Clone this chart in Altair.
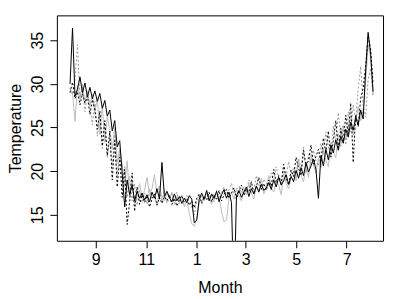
import altair as alt
import pandas as pd

# day offsets from Aug 1 (sampled every 3 days)
days = list(range(0, 367, 3))

black_solid = [
    30.0, 36.4, 28.6, 29.4, 30.8, 29.0, 30.1, 28.5, 29.6, 28.3,
    29.2, 28.0, 28.9, 27.2, 28.1, 26.3, 27.0, 24.6, 25.8, 22.8,
    23.5, 19.8, 15.9, 19.0, 17.3, 18.4, 16.6, 17.7, 16.9, 17.5,
    16.7, 17.3, 16.5, 17.6, 16.9, 18.0, 16.8, 21.0, 17.1, 17.7,
    17.0, 16.5, 17.4, 16.6, 17.1, 16.3, 16.9, 16.4, 17.2, 16.8,
    14.1, 14.4, 16.8, 17.5, 16.8, 17.8, 16.6, 17.4, 16.9, 17.7,
    16.5, 17.3, 17.9, 16.9, 17.6, 16.4, 5.0, 17.2, 17.8, 17.0,
    17.6, 18.2, 17.1, 18.0, 17.4, 18.3, 17.6, 18.5, 17.8, 18.1,
    18.7, 17.9, 19.0, 18.2, 19.3, 18.4, 18.9, 19.6, 18.5, 19.4,
    18.8, 20.1, 19.2, 20.4, 19.5, 21.0, 19.9, 20.6, 21.4, 20.2,
    16.9, 21.8, 20.6, 22.5, 21.3, 23.0, 22.1, 23.6, 22.4, 24.0,
    23.2, 24.8, 23.9, 25.6, 24.7, 26.2, 25.3, 27.0, 26.0, 31.5,
    35.9, 33.5, 29.1,
]

gray_solid = [
    29.5, 29.0, 25.7, 29.8, 28.4, 30.0, 27.9, 29.2, 27.5, 28.8,
    26.8, 28.4, 24.2, 27.5, 23.3, 26.2, 24.8, 22.5, 25.0, 21.0,
    22.6, 20.8, 18.2, 21.2, 17.0, 18.8, 16.3, 17.5, 18.6, 16.9,
    17.8, 19.3, 17.2, 18.0, 19.6, 17.4, 18.3, 17.0, 16.6, 17.5,
    16.8, 17.6, 16.2, 17.1, 16.5, 17.3, 15.9, 16.7, 15.2, 14.0,
    13.7, 14.5, 16.4, 17.2, 16.6, 17.5, 16.9, 16.2, 17.4, 16.8,
    17.1, 15.4, 14.2, 14.4, 16.9, 17.6, 16.8, 17.9, 17.2, 16.6,
    17.9, 17.3, 18.6, 17.5, 16.8, 18.4, 17.7, 19.2, 17.4, 18.3,
    19.5, 18.1, 17.6, 19.0, 18.4, 17.3, 19.8, 18.6, 18.0, 19.2,
    20.0, 18.9, 21.2, 19.6, 18.8, 20.5, 19.3, 22.0, 20.7, 19.8,
    21.5, 20.4, 22.6, 21.2, 20.5, 23.4, 22.2, 21.5, 24.3, 22.8,
    25.2, 23.6, 24.9, 26.3, 24.1, 25.5, 27.4, 25.8, 27.0, 30.2,
    34.5, 33.0, 28.8,
]

black_dotted = [
    29.0, 30.2, 28.3, 29.1, 27.6, 28.9, 27.8, 28.6, 26.5, 28.2,
    27.0, 24.8, 26.9, 22.9, 25.8, 21.8, 24.6, 19.0, 23.5, 18.2,
    21.6, 17.0, 20.2, 13.9, 16.5, 19.8, 15.4, 18.2, 16.2, 17.3,
    16.4, 17.2, 15.9, 16.8, 17.4, 16.1, 17.0, 16.3, 17.1, 16.6,
    17.3, 16.2, 16.9, 16.0, 16.7, 17.2, 16.4, 16.9, 16.1, 16.6,
    15.8, 16.9, 17.4, 16.3, 17.1, 16.7, 17.6, 16.5, 17.2, 16.8,
    17.8, 16.6, 17.3, 17.9, 16.9, 17.5, 18.1, 16.8, 17.7, 18.4,
    17.2, 18.0, 17.6, 18.8, 17.4, 18.2, 19.3, 17.9, 18.6, 17.8,
    19.0, 18.3, 20.2, 18.7, 19.5, 18.6, 20.8, 19.2, 18.4, 20.1,
    19.4, 21.6, 20.3, 19.5, 22.4, 20.6, 21.2, 23.0, 20.8, 21.7,
    22.5, 21.0, 23.8, 22.2, 24.6, 21.6, 23.5, 25.8, 22.7, 24.9,
    23.4, 26.4, 24.2, 27.8, 21.0, 26.5, 25.1, 28.3, 29.5, 32.0,
    35.5, 34.0, 30.0,
]

gray_dotted = [
    29.5, 28.8, 30.4, 34.5, 28.2, 29.6, 26.8, 29.0, 27.4, 25.3,
    28.0, 24.0, 26.5, 22.6, 25.4, 21.5, 23.8, 20.6, 24.2, 19.5,
    22.4, 18.6, 20.5, 17.0, 19.4, 16.6, 18.5, 16.1, 17.8, 16.4,
    17.5, 16.2, 18.0, 16.8, 17.3, 16.1, 17.7, 16.5, 17.9, 16.3,
    16.9, 17.4, 16.6, 17.6, 16.3, 17.0, 16.7, 17.2, 16.4, 15.9,
    15.0, 16.6, 17.3, 16.4, 16.9, 17.5, 16.7, 17.3, 16.5, 17.8,
    16.9, 17.5, 18.2, 17.0, 17.9, 18.6, 17.4, 17.9, 18.3, 17.5,
    18.2, 17.6, 19.0, 18.3, 17.8, 19.5, 18.4, 18.0, 19.1, 18.6,
    18.3, 19.8, 18.8, 20.5, 19.2, 18.7, 20.3, 19.4, 21.1, 19.7,
    20.4, 19.6, 21.5, 20.3, 22.8, 19.8, 21.9, 20.7, 22.4, 21.2,
    20.6, 23.2, 21.9, 24.5, 22.8, 21.6, 25.2, 23.4, 26.7, 24.0,
    25.3, 23.0, 26.8, 24.5, 27.6, 25.8, 29.4, 32.0, 27.5, 26.2,
    30.5, 31.8, 28.5,
]

tick_days = [31, 92, 153, 212, 273, 334]
tick_labels = ["9", "11", "1", "3", "5", "7"]
y_ticks = [15, 20, 25, 30, 35]

label_expr = ""
for d, l in zip(tick_days, tick_labels):
    label_expr += f"datum.value == {d} ? '{l}' : "
label_expr += "''"

x_enc = alt.X(
    "day:Q",
    scale=alt.Scale(domain=[-15.9, 378], nice=False, zero=False),
    axis=alt.Axis(values=tick_days, labelExpr=label_expr, title="Month",
                  labelBaseline="alphabetic", labelPadding=17,
                  titleBaseline="alphabetic", titleY=52),
)
y_enc = alt.Y(
    "temp:Q",
    scale=alt.Scale(domain=[12.03, 37.85], nice=False, zero=False),
    axis=alt.Axis(values=y_ticks, title="Temperature", labelAngle=270,
                  labelAlign="center", labelBaseline="alphabetic", labelPadding=7,
                  titleAngle=270, titleBaseline="alphabetic", titleAlign="center",
                  titleX=-36, titleY=113),
)


def layer(vals, color, dash):
    df = pd.DataFrame({"day": days, "temp": vals})
    kw = dict(color=color, strokeWidth=1, clip=True)
    if dash:
        kw["strokeDash"] = dash
    return alt.Chart(df).mark_line(**kw).encode(x=x_enc, y=y_enc)


chart = alt.layer(
    layer(gray_solid, "#bdbdbd", None),
    layer(gray_dotted, "#9a9a9a", [2, 2]),
    layer(black_dotted, "#000000", [2, 2]),
    layer(black_solid, "#000000", None),
).properties(
    width=327,
    height=226,
    autosize=alt.AutoSizeParams(type="none"),
    padding={"left": 49, "top": 7, "right": 8, "bottom": 58},
).configure_view(
    stroke="#000000", strokeWidth=1
).configure_axis(
    domain=False, grid=False, tickColor="#000000", tickSize=7, tickWidth=1,
    labelFont="Liberation Sans", labelFontSize=16, labelColor="#000000",
    titleFont="Liberation Sans", titleFontSize=16, titleFontWeight="normal",
    titleColor="#000000",
)

chart.save("out.html", embed_options={"renderer": "svg", "actions": False})
